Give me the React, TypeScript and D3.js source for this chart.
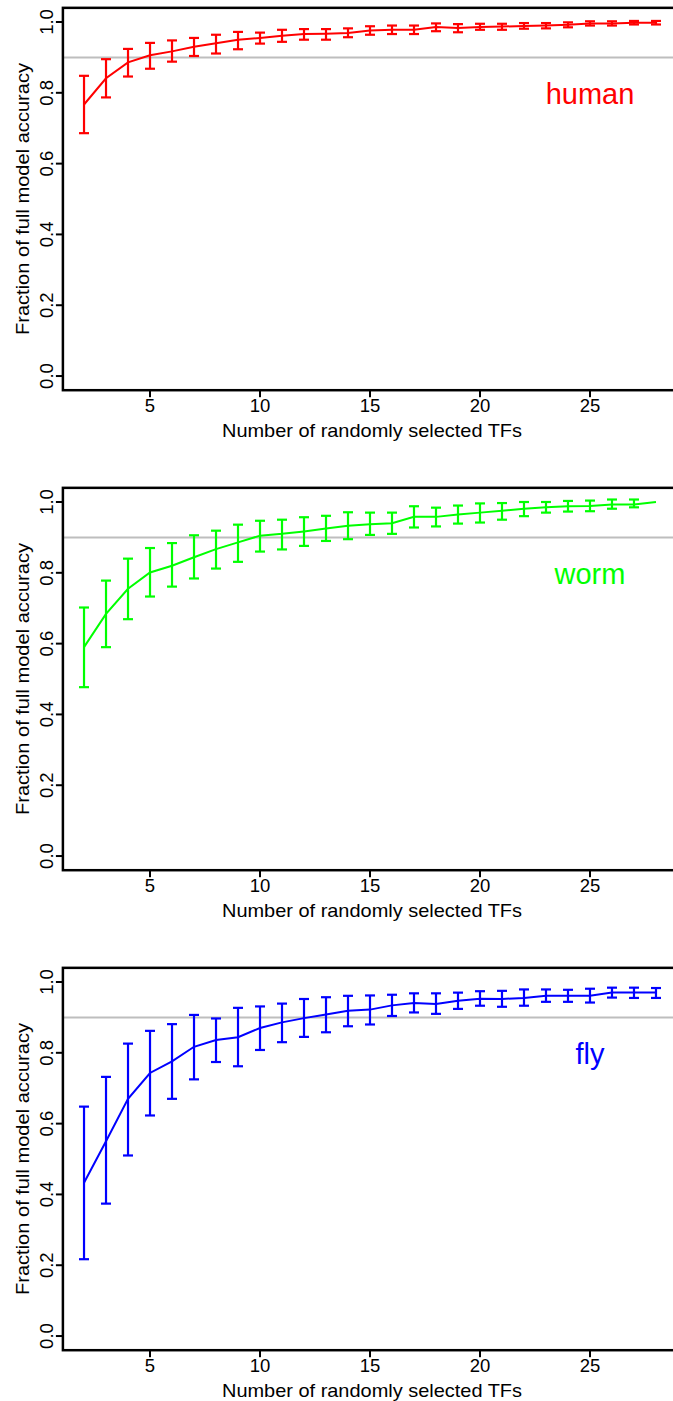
import React from "react";
import * as d3 from "d3";

const xs = [2, 3, 4, 5, 6, 7, 8, 9, 10, 11, 12, 13, 14, 15, 16, 17, 18, 19, 20, 21, 22, 23, 24, 25, 26, 27, 28];

const humanMean = [0.767, 0.841, 0.886, 0.906, 0.917, 0.930, 0.940, 0.950, 0.955, 0.961, 0.966, 0.967, 0.969, 0.976, 0.978, 0.978, 0.986, 0.983, 0.986, 0.987, 0.989, 0.990, 0.992, 0.996, 0.996, 0.998, 0.998];
const humanHi = [0.848, 0.895, 0.924, 0.941, 0.948, 0.955, 0.964, 0.972, 0.970, 0.978, 0.980, 0.980, 0.982, 0.988, 0.990, 0.990, 0.996, 0.994, 0.995, 0.995, 0.997, 0.997, 0.999, 1.002, 1.002, 1.003, 1.003];
const humanLo = [0.686, 0.787, 0.846, 0.868, 0.888, 0.904, 0.911, 0.923, 0.939, 0.944, 0.950, 0.950, 0.957, 0.964, 0.966, 0.966, 0.974, 0.971, 0.978, 0.978, 0.981, 0.982, 0.985, 0.990, 0.990, 0.993, 0.993];

const wormMean = [0.590, 0.684, 0.755, 0.801, 0.820, 0.844, 0.867, 0.886, 0.905, 0.910, 0.917, 0.925, 0.933, 0.937, 0.940, 0.958, 0.958, 0.965, 0.970, 0.975, 0.981, 0.985, 0.988, 0.989, 0.993, 0.993, 1.0];
const wormHi = [0.702, 0.778, 0.840, 0.870, 0.884, 0.906, 0.919, 0.936, 0.947, 0.950, 0.957, 0.961, 0.971, 0.970, 0.970, 0.988, 0.984, 0.990, 0.996, 0.997, 1.0, 1.0, 1.003, 1.004, 1.007, 1.007, 1.0];
const wormLo = [0.477, 0.590, 0.669, 0.733, 0.761, 0.784, 0.812, 0.831, 0.860, 0.866, 0.876, 0.890, 0.895, 0.907, 0.910, 0.928, 0.931, 0.939, 0.942, 0.950, 0.960, 0.970, 0.973, 0.974, 0.981, 0.985, 1.0];

const flyMean = [0.433, 0.550, 0.670, 0.743, 0.776, 0.817, 0.836, 0.844, 0.870, 0.886, 0.898, 0.908, 0.919, 0.922, 0.934, 0.941, 0.938, 0.947, 0.953, 0.952, 0.955, 0.961, 0.961, 0.961, 0.970, 0.970, 0.970];
const flyHi = [0.648, 0.732, 0.826, 0.862, 0.881, 0.907, 0.897, 0.927, 0.931, 0.939, 0.952, 0.957, 0.961, 0.962, 0.964, 0.968, 0.968, 0.970, 0.974, 0.975, 0.979, 0.979, 0.978, 0.981, 0.984, 0.984, 0.983];
const flyLo = [0.217, 0.374, 0.510, 0.623, 0.670, 0.725, 0.774, 0.762, 0.808, 0.830, 0.845, 0.858, 0.875, 0.880, 0.904, 0.914, 0.910, 0.924, 0.933, 0.930, 0.933, 0.944, 0.944, 0.942, 0.956, 0.955, 0.955];

const speciesNames = ["human", "worm", "fly"];
const speciesColors = ["#ff0000", "#00ff00", "#0000ff"];
const yTicks = [0, 0.2, 0.4, 0.6, 0.8, 1.0];
const xTicks = [5, 10, 15, 20, 25];
const xTitle = "Number of randomly selected TFs";
const yTitle = "Fraction of full model accuracy";
const refLine = 0.9;
const labelPos = { x: 25, y: 0.8 };

const panels = [
  { name: speciesNames[0], color: speciesColors[0], mean: humanMean, hi: humanHi, lo: humanLo },
  { name: speciesNames[1], color: speciesColors[1], mean: wormMean, hi: wormHi, lo: wormLo },
  { name: speciesNames[2], color: speciesColors[2], mean: flyMean, hi: flyHi, lo: flyLo },
];

const W = 673;
const H = 1401;
const PANEL_H = 480;
const FONT = "'Liberation Sans', Arial, Helvetica, sans-serif";

const x = d3.scaleLinear().domain([1.04, 28.96]).range([62.9, 677.1]);

function Panel({ p, dy }: { p: any; dy: number }) {
  const y = d3.scaleLinear().domain([-0.04, 1.04]).range([390.2 + dy, 7.84 + dy]);
  const line = d3
    .line<number>()
    .x((_, i) => x(xs[i]))
    .y((d) => y(d));
  const [x0, x1] = x.range();
  const [yb, yt] = y.range();
  const cap = 5;
  const yMid = (yb + yt) / 2;
  return (
    <g>
      <line x1={x0} x2={x1} y1={y(refLine)} y2={y(refLine)} stroke="#bebebe" strokeWidth={2} />
      <path d={line(p.mean) || ""} fill="none" stroke={p.color} strokeWidth={2} />
      {xs.map((xv, i) =>
        p.hi[i] - p.lo[i] > 0.002 ? (
          <g key={xv} stroke={p.color} strokeWidth={2.2}>
            <line x1={x(xv)} x2={x(xv)} y1={y(p.lo[i])} y2={y(p.hi[i])} />
            <line x1={x(xv) - cap} x2={x(xv) + cap} y1={y(p.lo[i])} y2={y(p.lo[i])} />
            <line x1={x(xv) - cap} x2={x(xv) + cap} y1={y(p.hi[i])} y2={y(p.hi[i])} />
          </g>
        ) : null
      )}
      <text
        x={x(labelPos.x)}
        y={y(labelPos.y) + 11}
        textAnchor="middle"
        fontFamily={FONT}
        fontSize={29}
        fill={p.color}
      >
        {p.name}
      </text>
      <rect x={x0} y={yt} width={x1 - x0} height={yb - yt} fill="none" stroke="#000" strokeWidth={2.5} />
      {yTicks.map((t) => (
        <g key={t}>
          <line x1={x0} x2={x0 - 7} y1={y(t)} y2={y(t)} stroke="#000" strokeWidth={2} />
          <text
            transform={`translate(53,${y(t)}) rotate(-90)`}
            textAnchor="middle"
            fontFamily={FONT}
            fontSize={18.5}
            fill="#000"
          >
            {t.toFixed(1)}
          </text>
        </g>
      ))}
      {xTicks.map((t) => (
        <g key={t}>
          <line x1={x(t)} x2={x(t)} y1={yb} y2={yb + 7} stroke="#000" strokeWidth={2} />
          <text x={x(t)} y={yb + 22} textAnchor="middle" fontFamily={FONT} fontSize={18.5} fill="#000">
            {t}
          </text>
        </g>
      ))}
      <text
        x={372}
        y={yb + 46.5}
        textAnchor="middle"
        fontFamily={FONT}
        fontSize={19}
        textLength={300}
        lengthAdjust="spacingAndGlyphs"
        fill="#000"
      >
        {xTitle}
      </text>
      <text
        transform={`translate(29,${yMid}) rotate(-90)`}
        textAnchor="middle"
        fontFamily={FONT}
        fontSize={19}
        textLength={272}
        lengthAdjust="spacingAndGlyphs"
        fill="#000"
      >
        {yTitle}
      </text>
    </g>
  );
}

export default function App() {
  return (
    <svg
      width={W}
      height={H}
      viewBox={`0 0 ${W} ${H}`}
      style={{ position: "absolute", left: 0, top: 0, background: "#fff" }}
    >
      <rect x={0} y={0} width={W} height={H} fill="#fff" />
      {panels.map((p, i) => (
        <Panel key={p.name} p={p} dy={i * PANEL_H} />
      ))}
    </svg>
  );
}
